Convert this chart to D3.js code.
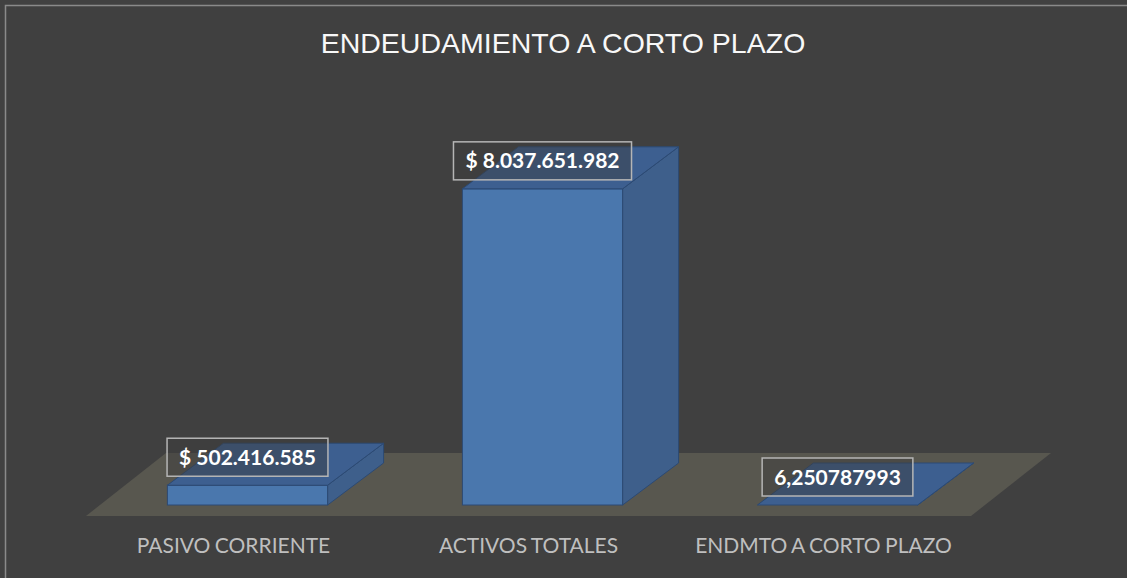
<!DOCTYPE html>
<html>
<head>
<meta charset="utf-8">
<script src="https://cdn.jsdelivr.net/npm/d3@7"></script>
<style>
  html, body { margin: 0; padding: 0; background: #414141; overflow: hidden; }
</style>
</head>
<body>
<div id="chart"></div>
<script>
// 1: DATA
const categories = ["PASIVO CORRIENTE", "ACTIVOS TOTALES", "ENDMTO A CORTO PLAZO"];
const values = [502416585, 8037651982, 6.250787993];
const labelKinds = ["currency", "currency", "ratio"];
const chartTitle = "ENDEUDAMIENTO A CORTO PLAZO";

// 2: GLOBAL VARIABLES
const W = 1127, H = 578;
const floorFront = 516;          // y of the floor's front edge
const floorDepth = { dx: 80, dy: -63 };
const barInset = { dx: 14, dy: -11 };  // bar front face sits a bit back on the floor
const barDepth = { dx: 56, dy: -42 };

const es = d3.formatLocale({ decimal: ",", thousands: ".", grouping: [3], currency: ["$ ", ""] });
const fmtMoney = es.format("$,.0f");
const fmtRatio = es.format(".9f");

const svg = d3.select("#chart")
  .append("svg")
  .attr("width", W)
  .attr("height", H)
  .style("display", "block");

// chart frame (only left / top edges visible)
svg.append("rect")
  .attr("x", 5.5).attr("y", 5.5)
  .attr("width", 3000).attr("height", 3000)
  .attr("fill", "#404040")
  .attr("stroke", "#8a8a8a")
  .attr("stroke-width", 1.5);

// 3: SCALES
const xScale = d3.scaleBand()
  .domain(categories)
  .range([86, 971])
  .paddingInner(0.457)
  .paddingOuter(0.2285);

const yScale = d3.scaleLinear()
  .domain([0, 9000000000])
  .range([0, 354]);

// 4: FLOOR
const [fx0, fx1] = xScale.range();
svg.append("polygon")
  .attr("points", [
    [fx0, floorFront], [fx1, floorFront],
    [fx1 + floorDepth.dx, floorFront + floorDepth.dy],
    [fx0 + floorDepth.dx, floorFront + floorDepth.dy]
  ].map(p => p.join(",")).join(" "))
  .attr("fill", "#58574f");

// 5: BARS (3D boxes)
const bars = svg.selectAll("g.bar")
  .data(categories.map((c, i) => ({ cat: c, value: values[i], kind: labelKinds[i] })))
  .enter()
  .append("g")
  .attr("class", "bar");

const geo = d => {
  const x0 = xScale(d.cat) + barInset.dx;
  const w = xScale.bandwidth();
  const yb = floorFront + barInset.dy;
  const yt = yb - yScale(d.value);
  return { x0, w, yb, yt };
};
const pts = arr => arr.map(p => p.join(",")).join(" ");

// side face
bars.append("polygon")
  .attr("points", d => {
    const g = geo(d);
    return pts([[g.x0 + g.w, g.yt], [g.x0 + g.w + barDepth.dx, g.yt + barDepth.dy],
                [g.x0 + g.w + barDepth.dx, g.yb + barDepth.dy], [g.x0 + g.w, g.yb]]);
  })
  .attr("fill", "#3e5f8b")
  .attr("stroke", "#2c4a74")
  .attr("stroke-width", 1);

// front face
bars.append("rect")
  .attr("x", d => geo(d).x0)
  .attr("y", d => geo(d).yt)
  .attr("width", d => geo(d).w)
  .attr("height", d => geo(d).yb - geo(d).yt)
  .attr("fill", "#4a77ad")
  .attr("stroke", "#2c4a74")
  .attr("stroke-width", 1);

// top face
bars.append("polygon")
  .attr("points", d => {
    const g = geo(d);
    return pts([[g.x0, g.yt], [g.x0 + g.w, g.yt],
                [g.x0 + g.w + barDepth.dx, g.yt + barDepth.dy], [g.x0 + barDepth.dx, g.yt + barDepth.dy]]);
  })
  .attr("fill", "#3d5f90")
  .attr("stroke", "#2c4a74")
  .attr("stroke-width", 1);

// 6: DATA LABELS
bars.each(function(d) {
  const g = geo(d);
  const cx = g.x0 + g.w / 2;
  const cy = g.yt - 28;
  const txt = d.kind === "currency" ? fmtMoney(d.value) : fmtRatio(d.value);
  const grp = d3.select(this).append("g");
  const box = grp.append("rect");
  const t = grp.append("text")
    .attr("x", cx)
    .attr("y", cy + 7.5)
    .attr("text-anchor", "middle")
    .attr("font-family", "Lato, 'Open Sans', sans-serif")
    .attr("font-weight", "bold")
    .attr("font-size", 21)
    .attr("fill", "#ffffff")
    .text(txt);
  const tw = t.node().getComputedTextLength();
  box.attr("x", cx - tw / 2 - 12)
    .attr("y", cy - 19)
    .attr("width", tw + 24)
    .attr("height", 38)
    .attr("fill", "rgba(60,60,60,0.45)")
    .attr("stroke", "#b5b5b5")
    .attr("stroke-width", 1.5);
});

// 7: CATEGORY LABELS
svg.selectAll("text.cat")
  .data(categories)
  .enter()
  .append("text")
  .attr("class", "cat")
  .attr("x", d => xScale(d) + xScale.bandwidth() / 2)
  .attr("y", 553)
  .attr("text-anchor", "middle")
  .attr("font-family", "Lato, sans-serif")
  .attr("font-size", 21)
  .attr("word-spacing", -1)
  .attr("fill", "#bfbfbf")
  .text(d => d);

// 8: TITLE
svg.append("text")
  .attr("x", 563)
  .attr("y", 53)
  .attr("text-anchor", "middle")
  .attr("font-family", "'Liberation Sans', Arial, sans-serif")
  .attr("font-size", 28.5)
  .attr("fill", "#f8f8f8")
  .text(chartTitle);
</script>
</body>
</html>
